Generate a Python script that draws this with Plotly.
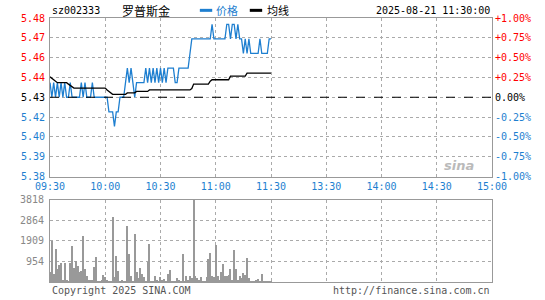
import plotly.graph_objects as go

# ---------------- data ----------------
prev_close = 5.43
price = [5.44, 5.43, 5.44, 5.43, 5.44, 5.43, 5.44, 5.43, 5.44, 5.43,
         5.43, 5.44, 5.43, 5.43, 5.43, 5.43, 5.43, 5.44, 5.43, 5.44,
         5.43, 5.43, 5.43, 5.44, 5.43, 5.43, 5.43, 5.43, 5.43, 5.43,
         5.43, 5.43, 5.42, 5.42, 5.42, 5.41, 5.42, 5.42, 5.43, 5.43,
         5.43, 5.44, 5.45, 5.44, 5.45, 5.44, 5.43, 5.44, 5.44, 5.44,
         5.44, 5.44, 5.45, 5.44, 5.45, 5.44, 5.45, 5.44, 5.45, 5.44,
         5.45, 5.44, 5.45, 5.44, 5.45, 5.45, 5.45, 5.45, 5.44, 5.44,
         5.45, 5.45, 5.45, 5.45, 5.45, 5.45, 5.46, 5.47, 5.47, 5.47,
         5.47, 5.47, 5.47, 5.47, 5.47, 5.47, 5.47, 5.47, 5.48, 5.47,
         5.47, 5.47, 5.47, 5.47, 5.47, 5.47, 5.48, 5.48, 5.47, 5.48,
         5.48, 5.47, 5.48, 5.47, 5.47, 5.46, 5.47, 5.46, 5.47, 5.46,
         5.46, 5.46, 5.46, 5.46, 5.47, 5.46, 5.46, 5.46, 5.46, 5.47,
         5.47]
avg = [5.444, 5.443, 5.442, 5.441, 5.440, 5.440, 5.440, 5.440, 5.440, 5.440,
       5.439, 5.438, 5.437, 5.4363, 5.4363, 5.4363, 5.4363, 5.4363, 5.4363, 5.4363,
       5.4363, 5.4363, 5.4363, 5.4363, 5.4363, 5.4363, 5.4363, 5.4363, 5.4363, 5.4363,
       5.4363, 5.435, 5.434, 5.433, 5.432, 5.432, 5.432, 5.432, 5.432, 5.432,
       5.432, 5.432, 5.433, 5.433, 5.433, 5.433, 5.433, 5.434, 5.434, 5.434,
       5.434, 5.434, 5.434, 5.434, 5.435, 5.435, 5.435, 5.435, 5.435, 5.435,
       5.435, 5.435, 5.435, 5.435, 5.435, 5.435, 5.435, 5.435, 5.435, 5.435,
       5.435, 5.435, 5.435, 5.435, 5.435, 5.435, 5.435, 5.436, 5.439, 5.439,
       5.439, 5.439, 5.439, 5.439, 5.439, 5.439, 5.439, 5.441, 5.442, 5.442,
       5.442, 5.442, 5.442, 5.442, 5.442, 5.442, 5.442, 5.442, 5.4445, 5.4445,
       5.4445, 5.4445, 5.4445, 5.4445, 5.4445, 5.4445, 5.4445, 5.4465, 5.4465, 5.4465,
       5.4465, 5.4465, 5.4465, 5.4465, 5.4465, 5.4465, 5.4465, 5.4465, 5.4465, 5.4465,
       5.4465]
volume = [458, 1909, 382, 1557, 641, 794, 886, 122, 916, 122,
          61, 916, 1680, 687, 992, 763, 458, 534, 2138, 641,
          275, 92, 92, 122, 733, 1191, 40, 76, 122, 336,
          229, 122, 61, 76, 3023, 229, 1222, 534, 76, 122,
          76, 40, 2626, 1298, 275, 76, 2260, 489, 183, 687,
          382, 229, 76, 947, 1756, 76, 61, 275, 122, 76,
          229, 122, 153, 76, 382, 580, 76, 61, 76, 183,
          92, 30, 1298, 76, 305, 92, 305, 214, 5200, 305,
          214, 122, 229, 61, 61, 229, 1069, 1374, 305, 229,
          1710, 305, 122, 458, 840, 275, 305, 336, 641, 122,
          1481, 611, 122, 275, 183, 428, 336, 1115, 183, 61,
          61, 76, 92, 153, 61, 382, 61, 31, 31, 61,
          61]
minutes = list(range(len(price)))
time_ticks = [0, 30, 60, 90, 120, 150, 180, 210, 240]
time_labels = ["09:30", "10:00", "10:30", "11:00", "11:30", "13:30", "14:00", "14:30", "15:00"]
pct_steps = [-1.0, -0.75, -0.5, -0.25, 0.0, 0.25, 0.5, 0.75, 1.0]
price_labels = ["5.38", "5.39", "5.40", "5.42", "5.43", "5.44", "5.46", "5.47", "5.48"]
pct_labels = ["-1.00%", "-0.75%", "-0.50%", "-0.25%", "0.00%", "+0.25%", "+0.50%", "+0.75%", "+1.00%"]
vol_ticks = [954, 1909, 2864, 3818]
vol_labels = ["954", "1909", "2864", "3818"]

# ---------------- style ----------------
RED = "#FF0000"
BLUE = "#1E7FD0"
GRID = "#AAAAAA"
FRAME = "#999999"
MONO = "DejaVu Sans Mono"
CJK = "Noto Sans CJK SC"

def col(v):
    return RED if v > 0 else (BLUE if v < 0 else "#000000")

price_vals = [prev_close * (1 + p / 100) for p in pct_steps]
left_text = [f'<span style="color:{col(p)}">{t}</span>' for p, t in zip(pct_steps, price_labels)]
right_text = [f'<span style="color:{col(p)}">{t}</span>' for p, t in zip(pct_steps, pct_labels)]
yr = [price_vals[0], price_vals[-1]]

fig = go.Figure()
fig.add_trace(go.Scatter(x=minutes, y=price, mode="lines", line=dict(color=BLUE, width=1.3),
                         xaxis="x", yaxis="y", hoverinfo="skip"))
fig.add_trace(go.Scatter(x=minutes, y=avg, mode="lines", line=dict(color="#000000", width=1.3),
                         xaxis="x", yaxis="y", hoverinfo="skip"))
fig.add_trace(go.Scatter(x=[0, 240], y=yr, mode="markers", marker=dict(opacity=0),
                         xaxis="x", yaxis="y2", hoverinfo="skip"))
fig.add_trace(go.Bar(x=minutes, y=volume, width=0.55, marker=dict(color="#999999", line=dict(width=0)),
                     xaxis="x2", yaxis="y3", hoverinfo="skip"))

axis_common = dict(showline=True, mirror=True, linecolor=FRAME, linewidth=1,
                   showgrid=True, gridcolor=GRID, griddash="dot", gridwidth=1,
                   zeroline=False, ticks="", fixedrange=True)

fig.update_layout(
    width=545, height=300,
    margin=dict(l=50, r=53, t=18, b=15),
    paper_bgcolor="white", plot_bgcolor="white",
    showlegend=False, bargap=0,
    font=dict(family=MONO, size=10, color="#000000"),
    xaxis=dict(domain=[0, 1], range=[0, 240], tickvals=time_ticks, ticktext=time_labels,
               tickfont=dict(color=BLUE, size=10, family=MONO), anchor="y", **axis_common),
    xaxis2=dict(domain=[0, 1], range=[0, 240], tickvals=time_ticks, showticklabels=False,
                anchor="y3", matches="x", **axis_common),
    yaxis=dict(domain=[0.3996, 1], range=yr, tickvals=price_vals, ticktext=left_text,
               tickfont=dict(size=10, family=MONO), anchor="x", ticklabelstandoff=2, **axis_common),
    yaxis2=dict(domain=[0.3996, 1], range=yr, tickvals=price_vals, ticktext=right_text,
                overlaying="y", side="right", anchor="x", showgrid=False, showline=False,
                zeroline=False, ticks="", tickfont=dict(size=10, family=MONO), ticklabelstandoff=2,
                fixedrange=True),
    yaxis3=dict(domain=[0, 0.312], range=[0, 3818], tickvals=vol_ticks, ticktext=vol_labels,
                tickfont=dict(color="#888888", size=10, family=MONO), anchor="x2",
                ticklabelstandoff=3, **axis_common),
)

# zero-change (previous close) dashed line
fig.add_shape(type="line", xref="x", yref="y", x0=0, x1=240, y0=prev_close, y1=prev_close,
              line=dict(color="#000000", width=1, dash="dash"))

# header texts
HY = 1.029
fig.add_annotation(text="sz002333", xref="paper", yref="paper", x=0, y=HY, xanchor="left",
                   yanchor="middle", showarrow=False, font=dict(family=MONO, size=10, color="#000"))
fig.add_annotation(text="罗普斯金", xref="paper", yref="paper", x=0.158, y=HY, xanchor="left",
                   yanchor="middle", showarrow=False, font=dict(family=CJK, size=12, color="#000"))
fig.add_shape(type="line", xref="paper", yref="paper", x0=0.339, x1=0.367, y0=HY, y1=HY,
              line=dict(color=BLUE, width=3))
fig.add_annotation(text="价格", xref="paper", yref="paper", x=0.372, y=HY, xanchor="left",
                   yanchor="middle", showarrow=False, font=dict(family=CJK, size=11, color=BLUE))
fig.add_shape(type="line", xref="paper", yref="paper", x0=0.452, x1=0.480, y0=HY, y1=HY,
              line=dict(color="#000", width=3))
fig.add_annotation(text="均线", xref="paper", yref="paper", x=0.486, y=HY, xanchor="left",
                   yanchor="middle", showarrow=False, font=dict(family=CJK, size=11, color="#000"))
fig.add_annotation(text="2025-08-21 11:30:00", xref="paper", yref="paper", x=1.0, y=HY,
                   xanchor="right", yanchor="middle", showarrow=False,
                   font=dict(family=MONO, size=10, color="#000"))

# footer texts
fig.add_annotation(text="Copyright 2025 SINA.COM", xref="paper", yref="paper", x=0, y=-0.005,
                   xanchor="left", yanchor="top", showarrow=False,
                   font=dict(family=MONO, size=10, color="#555"))
fig.add_annotation(text="http://finance.sina.com.cn", xref="paper", yref="paper", x=1.0, y=-0.005,
                   xanchor="right", yanchor="top", showarrow=False,
                   font=dict(family=MONO, size=10, color="#555"))

# watermark
fig.add_annotation(text="<b><i>sina</i></b>", xref="paper", yref="paper", x=0.925, y=0.44,
                   xanchor="center", yanchor="middle", showarrow=False,
                   font=dict(family="DejaVu Sans", size=13, color="#AAAAAA"), opacity=0.8)

fig.write_html("out.html")
